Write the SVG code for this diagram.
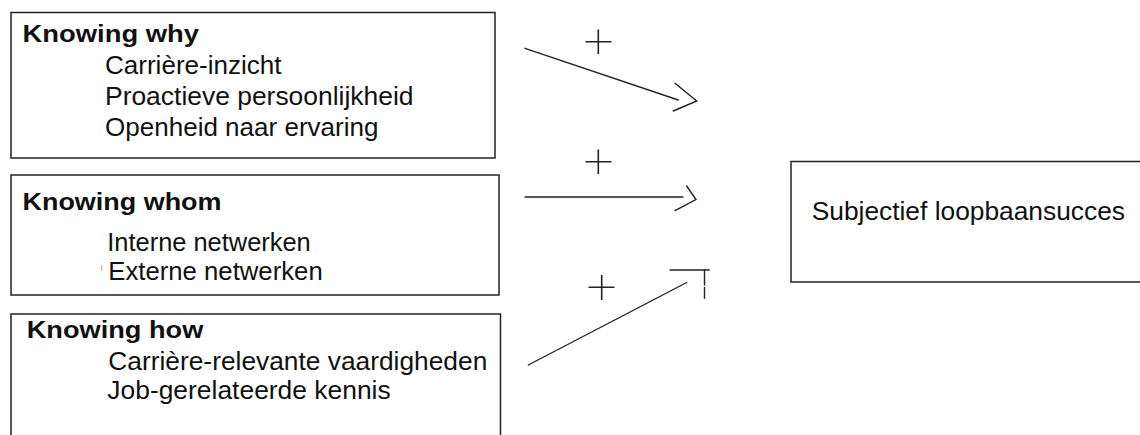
<svg xmlns="http://www.w3.org/2000/svg" width="1140" height="435" viewBox="0 0 1140 435">
<style>
.box{fill:#fff;stroke:#222;stroke-width:1.5}
.t{font-family:"Liberation Sans",Arial,sans-serif;font-size:25px;fill:#111}
.b{font-weight:bold;font-size:24px}
.c{fill:none;stroke:#222;stroke-width:1.4;stroke-linecap:round}
.p{fill:none;stroke:#222;stroke-width:1.6}
</style>
<rect width="1140" height="435" fill="#fff"/>
<g id="knowing-why">
<rect class="box" x="11" y="12.5" width="484" height="145.5"/>
<text class="t b" x="22.5" y="41.5" textLength="176.5" lengthAdjust="spacingAndGlyphs">Knowing why</text>
<text class="t" x="105" y="74" textLength="176.5" lengthAdjust="spacingAndGlyphs">Carrière-inzicht</text>
<text class="t" x="105" y="105" textLength="308.5" lengthAdjust="spacingAndGlyphs">Proactieve persoonlijkheid</text>
<text class="t" x="105" y="136" textLength="273.5" lengthAdjust="spacingAndGlyphs">Openheid naar ervaring</text>
</g>
<g id="knowing-whom">
<rect class="box" x="11" y="175" width="488" height="120"/>
<text class="t b" x="22.5" y="210" textLength="199" lengthAdjust="spacingAndGlyphs">Knowing whom</text>
<text class="t" x="107.3" y="251" textLength="203.4" lengthAdjust="spacingAndGlyphs">Interne netwerken</text>
<line x1="101.7" y1="265" x2="101.7" y2="271" stroke="#f0a060" stroke-width="1"/>
<text class="t" x="108.3" y="280" textLength="214.4" lengthAdjust="spacingAndGlyphs">Externe netwerken</text>
</g>
<g id="knowing-how">
<rect class="box" x="11" y="314" width="489.5" height="130"/>
<text class="t b" x="26.7" y="338.3" textLength="176.6" lengthAdjust="spacingAndGlyphs">Knowing how</text>
<text class="t" x="108.3" y="370" textLength="379" lengthAdjust="spacingAndGlyphs">Carrière-relevante vaardigheden</text>
<text class="t" x="107.3" y="399" textLength="283.4" lengthAdjust="spacingAndGlyphs">Job-gerelateerde kennis</text>
</g>
<g id="subjectief-loopbaansucces">
<rect class="box" x="791" y="161.5" width="360" height="120.5"/>
<text class="t" x="811.7" y="220" textLength="313.3" lengthAdjust="spacingAndGlyphs">Subjectief loopbaansucces</text>
</g>
<g id="connectors">
<line class="c" x1="525" y1="48.3" x2="678.3" y2="100"/>
<polyline class="c" points="675,83.3 696.7,101 673.3,111"/>
<line class="c" x1="525" y1="197" x2="683" y2="197"/>
<polyline class="c" points="686.7,186 696,199.5 675,210.7"/>
<line class="c" x1="528.3" y1="365" x2="686.7" y2="282.5"/>
<line class="c" x1="670" y1="270" x2="709.3" y2="270"/>
<line class="c" x1="704.5" y1="270" x2="704.5" y2="285"/>
<line class="c" x1="704.5" y1="287.5" x2="704.5" y2="298.3"/>
<path class="p" d="M585.5 41.7H611.5M598.3 29.5V54"/>
<path class="p" d="M585.5 161.7H611.5M598.3 149.5V174"/>
<path class="p" d="M588.5 287.3H614.5M601.7 275V300"/>
</g>
</svg>
